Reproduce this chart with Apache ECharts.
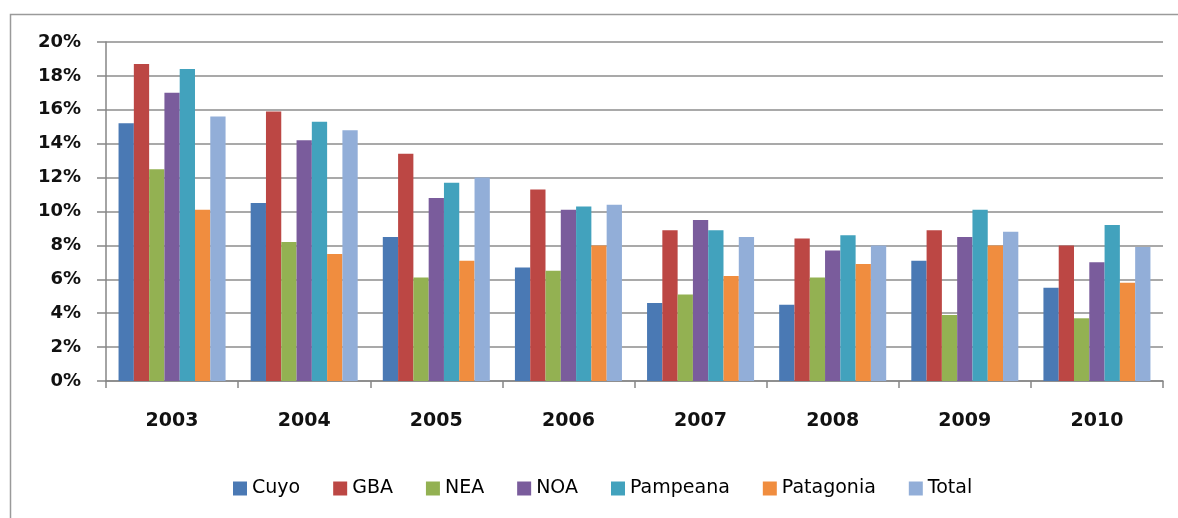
<!DOCTYPE html>
<html>
<head>
<meta charset="utf-8">
<script src="https://cdn.jsdelivr.net/npm/echarts@6/dist/echarts.min.js"></script>
<style>
html,body{margin:0;padding:0;background:#fff;}
#chart{width:1178px;height:518px;}
</style>
</head>
<body>
<div id="chart"></div>
<script>
const categories = ['2003','2004','2005','2006','2007','2008','2009','2010'];
const seriesNames = ['Cuyo','GBA','NEA','NOA','Pampeana','Patagonia','Total'];
const cuyo      = [15.2, 10.5, 8.5, 6.7, 4.6, 4.5, 7.1, 5.5];
const gba       = [18.7, 15.9, 13.4, 11.3, 8.9, 8.4, 8.9, 8.0];
const nea       = [12.5, 8.2, 6.1, 6.5, 5.1, 6.1, 3.9, 3.7];
const noa       = [17.0, 14.2, 10.8, 10.1, 9.5, 7.7, 8.5, 7.0];
const pampeana  = [18.4, 15.3, 11.7, 10.3, 8.9, 8.6, 10.1, 9.2];
const patagonia = [10.1, 7.5, 7.1, 8.0, 6.2, 6.9, 8.0, 5.8];
const total     = [15.6, 14.8, 12.0, 10.4, 8.5, 8.0, 8.8, 7.9];
const yTicks = { min: 0, max: 20, interval: 2 };

const values = [cuyo, gba, nea, noa, pampeana, patagonia, total];
const colors = ['#4A79B4','#BC4744','#93B152','#7A5C9C','#42A2BD','#F08D3F','#92AED8'];

const chart = echarts.init(document.getElementById('chart'), null, {renderer:'canvas'});
chart.setOption({
  animation: false,
  color: colors,
  graphic: [{
    type: 'rect',
    shape: { x: 10.5, y: 14.5, width: 1300, height: 700 },
    style: { fill: 'none', stroke: '#9a9a9a', lineWidth: 1.5 },
    silent: true, z: -1
  }],
  grid: { left: 106, right: 15, top: 42, bottom: 137 },
  legend: {
    bottom: 20,
    left: 233,
    padding: 0,
    itemWidth: 14, itemHeight: 14, itemGap: 33,
    icon: 'rect',
    textStyle: { fontFamily: 'DejaVu Sans', fontSize: 19, color: '#000' },
    data: seriesNames
  },
  xAxis: {
    type: 'category',
    data: categories,
    axisLine: { lineStyle: { color: '#868686', width: 1.5 } },
    axisTick: { show: true, length: 7, lineStyle: { color: '#868686', width: 1.5 } },
    axisLabel: { fontFamily: 'DejaVu Sans', fontSize: 19, fontWeight: 'bold', color: '#111', margin: 31 }
  },
  yAxis: {
    type: 'value',
    min: yTicks.min, max: yTicks.max, interval: yTicks.interval,
    axisLine: { show: true, lineStyle: { color: '#868686', width: 1.5 } },
    axisTick: { show: true, length: 9, lineStyle: { color: '#868686', width: 1.5 } },
    splitLine: { lineStyle: { color: '#8c8c8c', width: 1.5 } },
    axisLabel: { formatter: '{value}%', fontFamily: 'DejaVu Sans', fontSize: 18, fontWeight: 'bold', color: '#111', margin: 25 }
  },
  series: seriesNames.map((n, i) => ({
    name: n,
    type: 'bar',
    data: values[i],
    barGap: '0%',
    barCategoryGap: '19%'
  }))
});
</script>
</body>
</html>
